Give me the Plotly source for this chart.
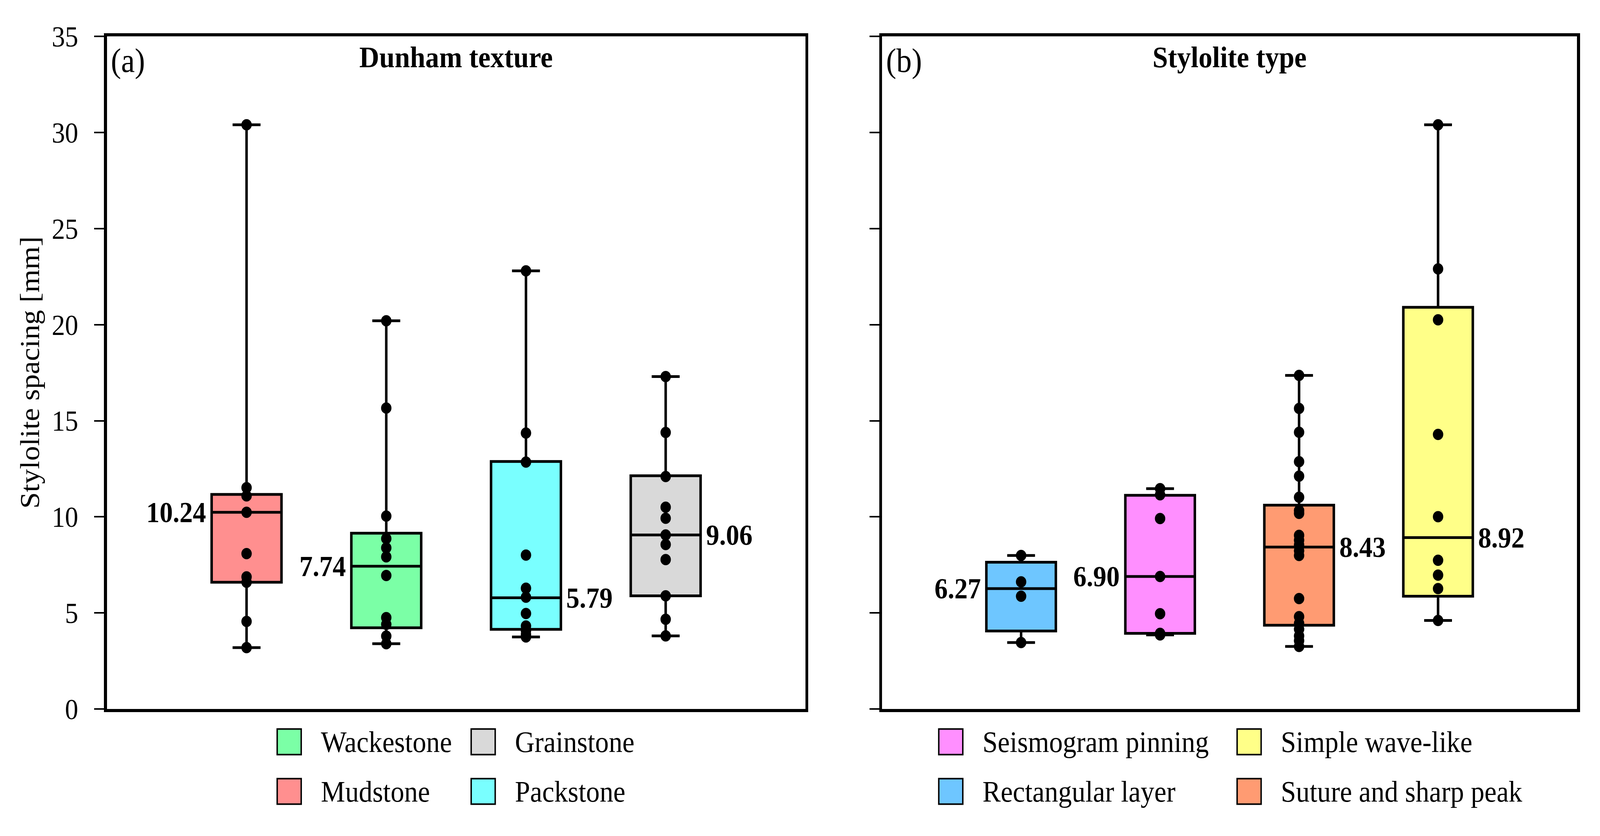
import plotly.graph_objects as go

W, H = 4462, 2139
FONT = "Liberation Serif"

# ---------------- data: panel (a) Dunham texture ----------------
dunham_categories = ["Mudstone", "Wackestone", "Packstone", "Grainstone"]
dunham_colors = ["#FF8F8F", "#7BFFA6", "#79FFFF", "#D9D9D9"]
mudstone_pts = [3.20, 4.56, 6.60, 6.88, 8.09, 10.24, 11.09, 11.52, 30.40]
wackestone_pts = [3.40, 3.80, 4.41, 4.76, 6.95, 7.92, 8.39, 8.87, 10.04, 15.66, 20.20]
packstone_pts = [3.75, 3.88, 4.07, 4.32, 4.97, 5.82, 6.29, 8.01, 12.85, 14.36, 22.80]
grainstone_pts = [3.81, 4.67, 5.89, 7.78, 8.56, 9.06, 9.93, 10.50, 12.10, 14.39, 17.30]
dunham_points = [mudstone_pts, wackestone_pts, packstone_pts, grainstone_pts]
dunham_lowerfence = [3.20, 3.40, 3.75, 3.81]
dunham_q1 = [6.60, 4.23, 4.15, 5.89]
dunham_median = [10.24, 7.43, 5.79, 9.06]
dunham_q3 = [11.17, 9.15, 12.88, 12.14]
dunham_upperfence = [30.40, 20.20, 22.80, 17.30]
dunham_labels = ["10.24", "7.74", "5.79", "9.06"]
dunham_label_side = ["left", "left", "right", "right"]

# ---------------- data: panel (b) Stylolite type ----------------
stylo_categories = ["Rectangular layer", "Seismogram pinning", "Suture and sharp peak", "Simple wave-like"]
stylo_colors = ["#6EC6FF", "#FF8FFF", "#FF9B72", "#FFFF88"]
rect_pts = [3.46, 5.87, 6.62, 7.99]
seismo_pts = [3.86, 3.94, 4.96, 6.90, 9.91, 11.15, 11.47]
suture_pts = [3.26, 3.56, 3.81, 4.16, 4.46, 4.81, 5.75, 7.99, 8.24, 8.54, 8.79, 9.04,
              10.18, 10.33, 11.02, 12.12, 12.87, 14.40, 15.64, 17.36]
simple_pts = [4.61, 6.27, 6.97, 7.74, 10.01, 14.29, 20.25, 22.90, 30.40]
stylo_points = [rect_pts, seismo_pts, suture_pts, simple_pts]
stylo_lowerfence = [3.46, 3.86, 3.26, 4.61]
stylo_q1 = [4.06, 3.94, 4.36, 5.87]
stylo_median = [6.27, 6.90, 8.43, 8.92]
stylo_q3 = [7.64, 11.12, 10.61, 20.90]
stylo_upperfence = [7.99, 11.47, 17.36, 30.40]
stylo_labels = ["6.27", "6.90", "8.43", "8.92"]
stylo_label_side = ["left", "left", "right", "right"]

y_ticks = [0, 5, 10, 15, 20, 25, 30, 35]
y_title = "Stylolite spacing [mm]"
panel_titles = ["Dunham texture", "Stylolite type"]
panel_tags = ["(a)", "(b)"]

legend_a_rows = [["Wackestone", "Grainstone"], ["Mudstone", "Packstone"]]
legend_b_rows = [["Seismogram pinning", "Simple wave-like"], ["Rectangular layer", "Suture and sharp peak"]]

# ---------------- layout geometry (pixels) ----------------
px_left_a, px_right_a = 298, 2246
px_left_b, px_right_b = 2460, 4398
px_top, px_bottom = 55, 1845


def fx(p):
    return p / W


def fy(p):
    return 1 - p / H


fig = go.Figure()

panels = [
    ("x", "y", dunham_categories, dunham_colors, dunham_points, dunham_lowerfence, dunham_q1,
     dunham_median, dunham_q3, dunham_upperfence, dunham_labels, dunham_label_side, px_left_a, px_right_a),
    ("x2", "y2", stylo_categories, stylo_colors, stylo_points, stylo_lowerfence, stylo_q1,
     stylo_median, stylo_q3, stylo_upperfence, stylo_labels, stylo_label_side, px_left_b, px_right_b),
]

annotations = []
BOX_W = 0.5
for (xa, ya, cats, cols, pts, lf, q1, med, q3, uf, labs, sides, pl, pr) in panels:
    for i, c in enumerate(cats):
        fig.add_trace(go.Box(
            x=[c], q1=[q1[i]], median=[med[i]], q3=[q3[i]],
            lowerfence=[lf[i]], upperfence=[uf[i]],
            fillcolor=cols[i], line=dict(color="black", width=7),
            width=BOX_W, whiskerwidth=0.4, boxpoints=False,
            showlegend=False, xaxis=xa, yaxis=ya, name=c,
        ))
    for i, c in enumerate(cats):
        fig.add_trace(go.Scatter(
            x=[c] * len(pts[i]), y=pts[i], mode="markers",
            marker=dict(color="black", size=29, line=dict(width=0)),
            showlegend=False, xaxis=xa, yaxis=ya, name=c,
        ))
    half_box_px = (pr - pl) / 5.0 * BOX_W / 2
    for i, c in enumerate(cats):
        left = sides[i] == "left"
        annotations.append(dict(
            x=c, y=med[i], xref=xa, yref=ya, text="<b>%s</b>" % labs[i], showarrow=False,
            xanchor="right" if left else "left", yanchor="middle",
            xshift=-(half_box_px + 13) if left else (half_box_px + 13),
            font=dict(family=FONT, size=74, color="black"),
        ))

# panel tags and titles
for k, (pl, pr) in enumerate([(px_left_a, px_right_a), (px_left_b, px_right_b)]):
    annotations.append(dict(x=fx(pl + 9), y=fy(68), xref="paper", yref="paper", text=panel_tags[k],
                            showarrow=False, xanchor="left", yanchor="top",
                            font=dict(family=FONT, size=86, color="black")))
    annotations.append(dict(x=fx((pl + pr) / 2), y=fy(110), xref="paper", yref="paper",
                            text="<b>%s</b>" % panel_titles[k], showarrow=False,
                            xanchor="center", yanchor="middle",
                            font=dict(family=FONT, size=77, color="black")))

# y-axis title
annotations.append(dict(x=fx(83), y=fy((px_top + px_bottom) / 2), xref="paper", yref="paper",
                        text=y_title, showarrow=False, textangle=-90,
                        xanchor="center", yanchor="middle",
                        font=dict(family=FONT, size=76, color="black")))

# manual legends
shapes = []
color_of = dict(zip(dunham_categories + stylo_categories, dunham_colors + stylo_colors))
row_y = [1932, 2064]
SQ_W, SQ_H = 67, 68
for rows, col_x in [(legend_a_rows, [773, 1314]), (legend_b_rows, [2618, 3450])]:
    for r, row in enumerate(rows):
        for cidx, name in enumerate(row):
            x0 = col_x[cidx]
            yc = row_y[r]
            shapes.append(dict(type="rect", xref="paper", yref="paper",
                               x0=fx(x0), x1=fx(x0 + SQ_W), y0=fy(yc + SQ_H / 2), y1=fy(yc - SQ_H / 2),
                               fillcolor=color_of[name], line=dict(color="black", width=4)))
            annotations.append(dict(x=fx(x0 + SQ_W + 53), y=fy(yc), xref="paper", yref="paper",
                                    text=name, showarrow=False, xanchor="left", yanchor="middle",
                                    font=dict(family=FONT, size=76, color="black")))

axis_common = dict(showgrid=False, zeroline=False, showline=True, mirror=True,
                   linecolor="black", linewidth=8)

fig.update_layout(
    width=W, height=H,
    margin=dict(l=0, r=0, t=0, b=0, pad=0),
    paper_bgcolor="white", plot_bgcolor="white",
    showlegend=False, boxmode="overlay",
    font=dict(family=FONT, size=74, color="black"),
    xaxis=dict(domain=[fx(px_left_a), fx(px_right_a)], type="category",
               categoryorder="array", categoryarray=dunham_categories, range=[-1, 4],
               showticklabels=False, ticks="", anchor="y", **axis_common),
    yaxis=dict(domain=[fy(px_bottom), fy(px_top)], range=[0, 35], tickvals=y_ticks,
               ticks="outside", ticklen=27, tickwidth=4, tickcolor="black",
               ticklabelstandoff=30,
               tickfont=dict(family=FONT, size=74, color="black"), anchor="x", **axis_common),
    xaxis2=dict(domain=[fx(px_left_b), fx(px_right_b)], type="category",
                categoryorder="array", categoryarray=stylo_categories, range=[-1, 4],
                showticklabels=False, ticks="", anchor="y2", **axis_common),
    yaxis2=dict(domain=[fy(px_bottom), fy(px_top)], range=[0, 35], tickvals=y_ticks,
                ticks="outside", ticklen=27, tickwidth=4, tickcolor="black",
                showticklabels=False, anchor="x2", **axis_common),
    annotations=annotations,
    shapes=shapes,
)

# Fit the fixed-size figure to fill the browser viewport (no page margins / scrollbars / modebar).
fit_script = """
(function(){
  var gd = document.getElementById('{plot_id}');
  document.documentElement.style.margin = '0';
  document.documentElement.style.overflow = 'hidden';
  document.body.style.margin = '0';
  document.body.style.overflow = 'hidden';
  var sx = window.innerWidth / %d, sy = window.innerHeight / %d;
  gd.style.transformOrigin = '0 0';
  gd.style.transform = 'scale(' + sx + ',' + sy + ')';
})();
""" % (W, H)

fig.write_html("out.html", post_script=fit_script, config={"displayModeBar": False})
